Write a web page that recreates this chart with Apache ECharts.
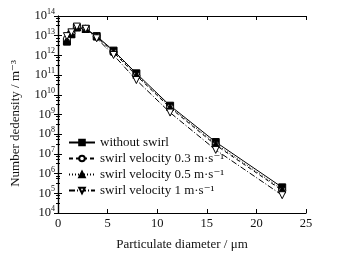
<!DOCTYPE html>
<html>
<head>
<meta charset="utf-8">
<script src="https://cdn.jsdelivr.net/npm/echarts@6/dist/echarts.min.js"></script>
<style>
  html, body { margin: 0; padding: 0; background: #fff; }
  #chart { width: 346px; height: 262px; }
</style>
</head>
<body>
<div id="chart"></div>
<script>
// particle diameter (um)
var diameters = [0.9, 1.35, 1.9, 2.8, 3.9, 5.6, 7.9, 11.3, 15.9, 22.6];
// number density (m^-3)
var noSwirl = [5.0e12, 1.18e13, 2.6e13, 2.2e13, 9.5e12, 1.75e12, 1.23e11, 2.8e9, 4.0e7, 2.0e5];
var swirl03 = [7.0e12, 1.32e13, 2.7e13, 2.25e13, 8.9e12, 1.4e12, 9.5e10, 2.2e9, 2.8e7, 1.4e5];
var swirl05 = [6.0e12, 1.26e13, 2.75e13, 2.2e13, 9.1e12, 1.6e12, 1.05e11, 2.4e9, 3.2e7, 1.6e5];
var swirl1  = [9.5e12, 1.48e13, 2.9e13, 2.25e13, 7.4e12, 1.05e12, 5.6e10, 1.25e9, 1.6e7, 8.0e4];

var seriesNames = ['without swirl', 'swirl velocity 0.3 m\u00b7s\u207b\u00b9', 'swirl velocity 0.5 m\u00b7s\u207b\u00b9', 'swirl velocity 1 m\u00b7s\u207b\u00b9'];

var font = '"Liberation Serif", "DejaVu Serif", serif';

function pairs(ys) {
  return diameters.map(function (x, i) { return [x, ys[i]]; });
}

var triDown = 'path://M0,0 L10,0 L5,9 Z';

var lineDefs = [
  { data: noSwirl, symbol: 'rect', fill: '#000', type: 'solid' },
  { data: swirl03, symbol: 'circle', fill: '#fff', type: [4, 3] },
  { data: swirl05, symbol: 'triangle', fill: '#000', type: [1, 2] },
  { data: swirl1, symbol: triDown, fill: '#fff', type: [6, 2, 1, 2] }
];

var myChart = echarts.init(document.getElementById('chart'));

var logAxisBase = {
  type: 'log',
  logBase: 10,
  min: 1e4, max: 1e14,
  interval: 1,
  axisLine: { lineStyle: { color: '#000', width: 1.2 } },
  axisTick: { inside: true, length: 4, lineStyle: { color: '#000' } },
  minorTick: { show: true, splitNumber: 4, length: 2, lineStyle: { color: '#000' } },
  splitLine: { show: false }
};

var option = {
  backgroundColor: '#fff',
  animation: false,
  textStyle: { fontFamily: font },
  grid: { left: 58, right: 40, top: 16, bottom: 49 },
  legend: {
    orient: 'vertical',
    left: 63,
    top: 131,
    itemWidth: 26,
    itemHeight: 7,
    itemGap: 3,
    textStyle: { fontFamily: font, fontSize: 13, color: '#111' },
    data: seriesNames
  },
  xAxis: [{
    type: 'value',
    min: 0, max: 25, interval: 5,
    name: 'Particulate diameter / \u03bcm',
    nameLocation: 'middle',
    nameGap: 25,
    nameTextStyle: { fontFamily: font, fontSize: 13, color: '#111' },
    axisLine: { lineStyle: { color: '#000', width: 1.2 } },
    axisTick: { inside: true, length: 4, lineStyle: { color: '#000' } },
    axisLabel: { fontFamily: font, fontSize: 12.5, color: '#111', margin: 4 },
    splitLine: { show: false }
  }, {
    type: 'value',
    position: 'top',
    min: 0, max: 25, interval: 5,
    axisLine: { lineStyle: { color: '#000', width: 1.2 } },
    axisTick: { inside: true, length: 4, lineStyle: { color: '#000' } },
    axisLabel: { show: false },
    splitLine: { show: false }
  }],
  yAxis: [Object.assign({}, logAxisBase, {
    name: 'Number dedensity / m\u207b\u00b3',
    nameLocation: 'middle',
    nameGap: 36,
    nameTextStyle: { fontFamily: font, fontSize: 13, color: '#111', padding: [0, 18, 0, 0] },
    axisLabel: {
      margin: 3,
      formatter: function (v) {
        return '{b|10}{s|' + Math.round(Math.log10(v)) + '}';
      },
      rich: {
        b: { fontFamily: font, fontSize: 12.5, color: '#111' },
        s: { fontFamily: font, fontSize: 8, color: '#111', padding: [0, 0, 8, 0] }
      }
    }
  }), Object.assign({}, logAxisBase, {
    position: 'right',
    axisLabel: { show: false }
  })],
  series: lineDefs.map(function (d, i) {
    return {
      name: seriesNames[i],
      type: 'line',
      data: pairs(d.data),
      symbol: d.symbol,
      symbolSize: 7,
      showAllSymbol: true,
      itemStyle: { color: d.fill, borderColor: '#000', borderWidth: 1 },
      lineStyle: { color: '#000', width: 1, type: d.type }
    };
  })
};

myChart.setOption(option);
</script>
</body>
</html>
